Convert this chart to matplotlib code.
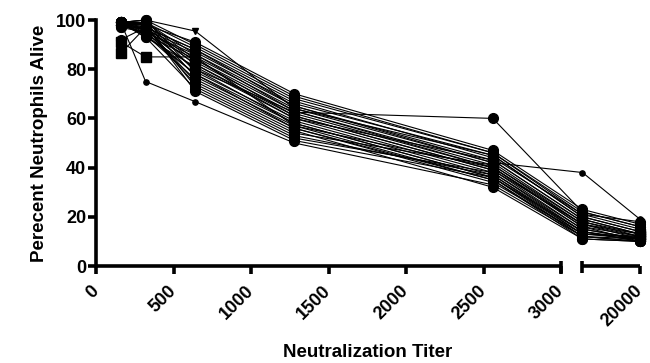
import numpy as np
import matplotlib.pyplot as plt
from matplotlib import transforms

# titers (x) and percent alive per donor (one row per line)
titers = [160, 320, 640, 1280, 2560, 5120, 20000]
alive = [
    [99, 100, 95.5, 64, 45, 20, 14],
    [91, 85, 85, 57, 40, 17, 12],
    [86.5, 97, 82, 60, 43, 19, 13],
    [99, 75, 66.8, 50, 33, 12, 10],
    [99, 98, 91, 70, 47, 23, 17],
    [98, 99, 89, 68, 46, 22, 16],
    [99, 97, 88, 67, 44, 21, 15],
    [98, 96, 87, 66, 45, 20, 14],
    [99, 99, 86, 65, 43, 19, 13],
    [97, 95, 85, 64, 42, 18, 12],
    [99, 94, 84, 63, 41, 17, 11],
    [98, 98, 83, 62, 40, 16, 10],
    [92, 97, 82, 61, 39, 15, 11],
    [99, 93, 81, 60, 38, 14, 10],
    [98, 96, 80, 62.5, 60, 22, 16],
    [99, 100, 79, 59, 37, 13, 12],
    [98, 95, 78, 58, 36, 12, 11],
    [97, 99, 77, 57, 35, 11, 10],
    [99, 94, 76, 56, 34, 13, 12],
    [98, 97, 75, 55, 32, 11, 10],
    [99, 96, 74, 54, 41, 18, 13],
    [99, 93, 72, 52, 38, 15, 11],
    [98, 98, 71, 51, 36, 14, 10],
    [99, 100, 90, 69, 46, 21, 18],
    [97, 97, 88, 65, 42, 38, 19],
    [99, 95, 86, 63, 40, 16, 12],
    [98, 99, 84, 61, 39, 17, 13],
    [99, 96, 80, 58, 36, 13, 11],
    [98, 94, 78, 56, 35, 12, 10],
    [99, 98, 73, 53, 37, 14, 11],
]
markers = ['v', 's', 's', '.'] + ['o'] * 20 + ['.'] + ['o'] * 5

xticks = [0, 500, 1000, 1500, 2000, 2500, 3000, 20000]
yticks = [0, 20, 40, 60, 80, 100]

# broken x axis: 0-3000, gap, 5000-20000
BRK, SEG2 = 3000, 5000
GAP, W2 = 135.5, 374.0


def fwd(x):
    x = np.asarray(x, dtype=float)
    return np.where(x <= BRK, x,
                    np.where(x < SEG2, BRK + (x - BRK) / (SEG2 - BRK) * GAP,
                             BRK + GAP + (x - SEG2) / (20000 - SEG2) * W2))


def inv(u):
    u = np.asarray(u, dtype=float)
    return np.where(u <= BRK, u,
                    np.where(u < BRK + GAP, BRK + (u - BRK) / GAP * (SEG2 - BRK),
                             SEG2 + (u - BRK - GAP) / W2 * (20000 - SEG2)))


plt.rcParams['font.family'] = ['Liberation Sans', 'DejaVu Sans']
plt.rcParams['font.weight'] = 'bold'

fig = plt.figure(figsize=(6.5, 3.63), dpi=100)
ax = fig.add_axes([0.1477, 0.2672, 0.8369, 0.6777])
ax.set_xscale('function', functions=(fwd, inv))

for row, m in zip(alive, markers):
    ms = 3.8 if m == '.' else (5.0 if m == 'v' else 7.0)
    mk = 'o' if m == '.' else m
    ax.plot(titers, row, '-', color='black', lw=0.8, marker=mk, ms=ms,
            mfc='black', mec='black', clip_on=False)

ax.set_xlim(0, 20000)
ax.set_ylim(0, 100)
ax.set_yticks(yticks)
ax.set_xticks(xticks)
ax.set_xticklabels([str(t) for t in xticks], rotation=45, ha='right',
                   va='center', rotation_mode='anchor')

for s in ['top', 'right', 'bottom']:
    ax.spines[s].set_visible(False)
ax.spines['left'].set_linewidth(2.6)
ax.tick_params(axis='both', width=2.6, length=6, labelsize=13, direction='out')
ax.tick_params(axis='x', pad=10)
ax.tick_params(axis='y', pad=1)

# hand-drawn bottom axis with a break
tr = transforms.blended_transform_factory(ax.transData, ax.transAxes)
ax.plot([0, BRK], [0, 0], color='black', lw=2.6, transform=tr, clip_on=False,
        solid_capstyle='butt')
ax.plot([SEG2, 20000], [0, 0], color='black', lw=2.6, transform=tr,
        clip_on=False, solid_capstyle='butt')
for xb in [BRK, SEG2]:
    ax.plot([xb, xb], [0.02, -0.03], color='black', lw=2.6, transform=tr,
            clip_on=False, solid_capstyle='butt')

ax.set_ylabel('Perecent Neutrophils Alive', fontsize=13.5, fontweight='bold',
              labelpad=6)
ax.set_xlabel('Neutralization Titer', fontsize=13.5, fontweight='bold',
              labelpad=10)

fig.savefig('out.png', dpi=100)
